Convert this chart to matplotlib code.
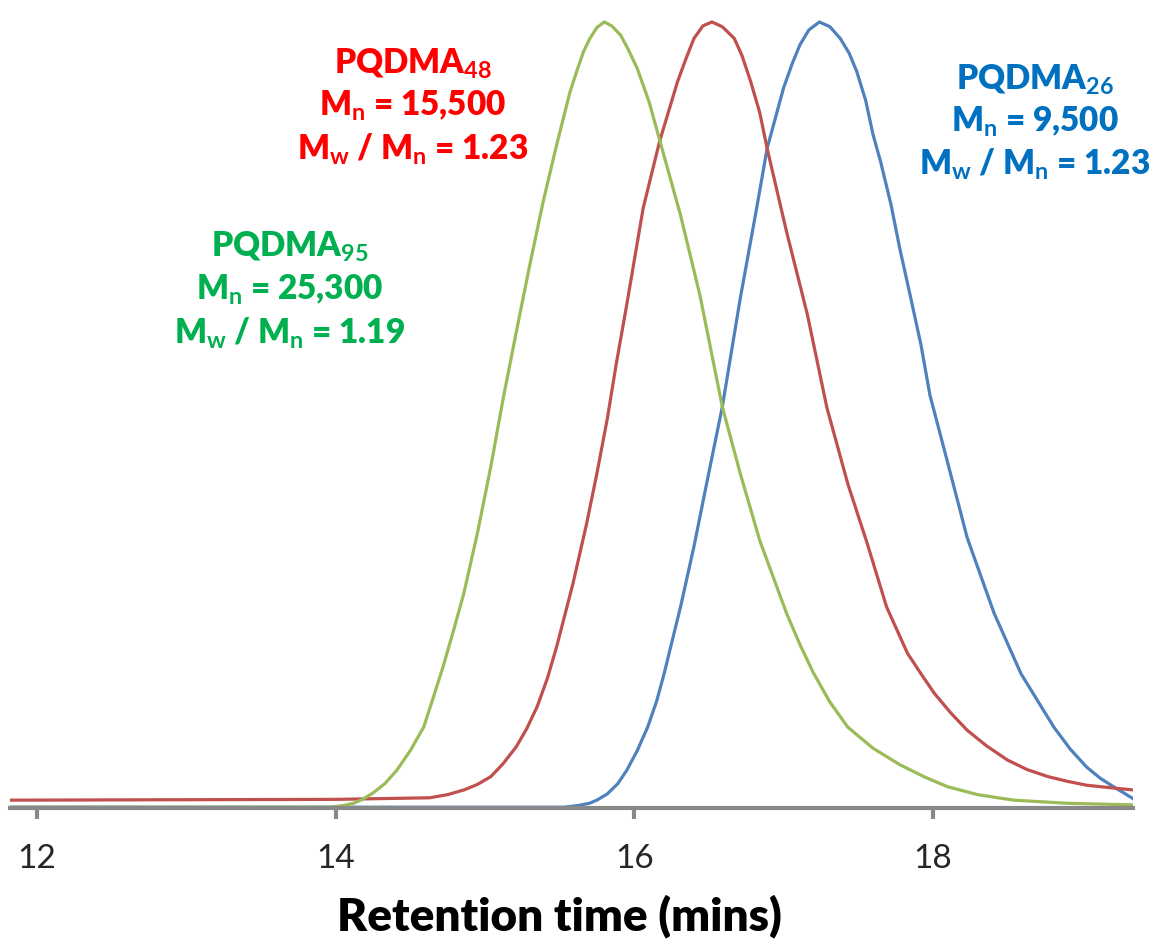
import matplotlib
matplotlib.use("Agg")
import matplotlib.pyplot as plt

# GPC traces (time in mins, normalised RI signal)
green_t = [11.82, 13.96, 14.05, 14.12, 14.18, 14.25, 14.33, 14.41, 14.50, 14.59,
           14.65, 14.72, 14.79, 14.86, 14.95, 15.04, 15.12, 15.21, 15.30, 15.39,
           15.48, 15.57, 15.62, 15.66, 15.70, 15.75, 15.80, 15.85, 15.91, 15.96,
           16.02, 16.10, 16.17, 16.31, 16.44, 16.59, 16.71, 16.84, 17.02, 17.11,
           17.20, 17.31, 17.43, 17.60, 17.78, 17.95, 18.10, 18.30, 18.54, 18.90,
           19.34]
green_y = [0.0, 0.0, 0.002, 0.005, 0.010, 0.018, 0.030, 0.047, 0.072, 0.102,
           0.137, 0.179, 0.225, 0.273, 0.349, 0.434, 0.518, 0.605, 0.690, 0.771,
           0.843, 0.911, 0.940, 0.962, 0.978, 0.993, 1.0, 0.995, 0.983, 0.965,
           0.941, 0.898, 0.850, 0.754, 0.652, 0.510, 0.425, 0.340, 0.247, 0.207,
           0.171, 0.134, 0.102, 0.075, 0.054, 0.038, 0.026, 0.016, 0.009, 0.005,
           0.003]

red_t = [11.82, 14.00, 14.63, 14.75, 14.86, 14.95, 15.04, 15.12, 15.21, 15.28,
         15.35, 15.42, 15.48, 15.59, 15.68, 15.75, 15.82, 15.88, 15.95, 16.06,
         16.17, 16.29, 16.35, 16.40, 16.46, 16.52, 16.59, 16.67, 16.72, 16.78,
         16.84, 16.89, 17.02, 17.16, 17.29, 17.43, 17.56, 17.69, 17.83, 17.92,
         18.01, 18.12, 18.23, 18.36, 18.50, 18.63, 18.77, 18.90, 19.03, 19.18,
         19.34]
red_y = [0.009, 0.010, 0.012, 0.016, 0.022, 0.029, 0.039, 0.055, 0.077, 0.100,
         0.128, 0.165, 0.204, 0.285, 0.360, 0.425, 0.495, 0.565, 0.640, 0.763,
         0.848, 0.924, 0.955, 0.979, 0.995, 1.0, 0.994, 0.979, 0.958, 0.924,
         0.885, 0.839, 0.733, 0.627, 0.509, 0.412, 0.336, 0.255, 0.196, 0.170,
         0.145, 0.120, 0.098, 0.078, 0.060, 0.048, 0.039, 0.033, 0.028, 0.025,
         0.022]

blue_t = [11.82, 15.53, 15.62, 15.70, 15.75, 15.82, 15.89, 15.95, 16.02, 16.09,
          16.15, 16.20, 16.31, 16.40, 16.49, 16.59, 16.71, 16.82, 16.89, 17.00,
          17.06, 17.11, 17.17, 17.24, 17.31, 17.38, 17.44, 17.49, 17.55, 17.60,
          17.65, 17.72, 17.78, 17.85, 17.92, 17.98, 18.10, 18.23, 18.41, 18.59,
          18.81, 18.92, 19.03, 19.12, 19.21, 19.28, 19.34]
blue_y = [0.0, 0.0, 0.002, 0.005, 0.009, 0.017, 0.030, 0.047, 0.072, 0.102,
          0.135, 0.170, 0.255, 0.332, 0.417, 0.510, 0.648, 0.763, 0.839, 0.916,
          0.948, 0.971, 0.990, 1.0, 0.994, 0.979, 0.960, 0.937, 0.900, 0.856,
          0.822, 0.767, 0.710, 0.650, 0.589, 0.525, 0.438, 0.343, 0.247, 0.170,
          0.102, 0.074, 0.051, 0.037, 0.026, 0.018, 0.011]

xticks = [12, 14, 16, 18]

labels = {
    'green': ['PQDMA$_{95}$', 'M$_n$ = 25,300', 'M$_w$ / M$_n$ = 1.19'],
    'red': ['PQDMA$_{48}$', 'M$_n$ = 15,500', 'M$_w$ / M$_n$ = 1.23'],
    'blue': ['PQDMA$_{26}$', 'M$_n$ = 9,500', 'M$_w$ / M$_n$ = 1.23'],
}

plt.rcParams['font.family'] = ['Lato', 'DejaVu Sans']
plt.rcParams['mathtext.fontset'] = 'custom'
plt.rcParams['mathtext.rm'] = 'Lato:bold'
plt.rcParams['mathtext.it'] = 'Lato:bold'
plt.rcParams['mathtext.bf'] = 'Lato:bold'

fig = plt.figure(figsize=(11.53, 9.43), dpi=100)
ax = fig.add_axes([10 / 1153, (943 - 808) / 943, 1123 / 1153, 808 / 943])

ax.plot(blue_t, blue_y, color='#4F81BD', lw=2.3, solid_joinstyle='round')
ax.plot(red_t, red_y, color='#C0504D', lw=2.3, solid_joinstyle='round')
ax.plot(green_t, green_y, color='#9BBB59', lw=2.3, solid_joinstyle='round')

ax.set_xlim(11.82, 19.34)
ax.set_ylim(-0.001, 1.028)

for s in ['top', 'right', 'left']:
    ax.spines[s].set_visible(False)
ax.spines['bottom'].set_color('#888888')
ax.spines['bottom'].set_linewidth(3)
ax.set_yticks([])
ax.set_xticks(xticks)
ax.tick_params(axis='x', direction='out', length=8, width=3, color='#888888',
               labelsize=24, labelcolor='#262626', pad=18)

ax.set_xlabel('Retention time (mins)', fontsize=33, fontweight='heavy',
              color='black')
ax.xaxis.set_label_coords((559 - 10) / 1123, -0.107)

def block(lines, cx, ys, color):
    for txt, yy in zip(lines, ys):
        fig.text(cx / 1153, 1 - yy / 943, txt, color=color, fontsize=24,
                 fontweight='heavy', ha='center', va='center')

block(labels['red'], 413, [64, 106, 149], '#FF0000')
block(labels['green'], 290, [247, 290, 333], '#00B050')
block(labels['blue'], 1035, [80, 122, 164], '#0070C0')

fig.savefig('out.png', dpi=100)
